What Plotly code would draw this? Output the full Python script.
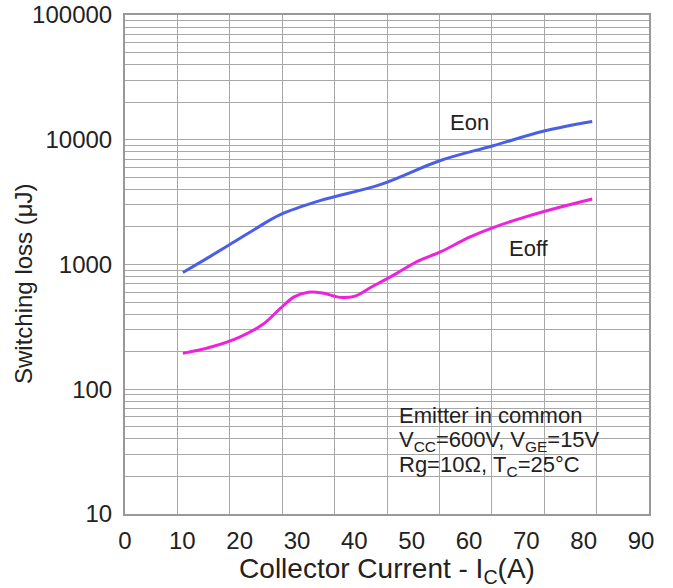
import plotly.graph_objects as go

# Data
eon_x = [10.1, 14.0, 18.0, 22.5, 27.0, 34.0, 44.5, 54.9, 64.2, 73.3, 81.5]
eon_y = [863, 1100, 1419, 1900, 2500, 3251, 4365, 6792, 8954, 11800, 14000]

eoff_x = [10.1, 15.0, 20.0, 24.0, 27.0, 29.5, 32.0, 34.5, 37.5, 40.0, 43.0, 47.0, 51.0, 55.0, 60.0, 64.2, 70.0, 75.5, 81.5]
eoff_y = [194, 218, 262, 330, 440, 550, 600, 590, 545, 555, 660, 830, 1060, 1260, 1650, 1977, 2420, 2850, 3350]

x_ticks = [0, 10, 20, 30, 40, 50, 60, 70, 80, 90]
y_ticks = [10, 100, 1000, 10000, 100000]
y_ticktext = ["10", "100", "1000", "10000", "100000"]

FONT = "Liberation Sans, Arial, sans-serif"
TXT = "#222222"
GRID = "#a8a8a8"

XMAX = 91.4
L, R, T, B = 125, 649, 15, 514
PW, PH = R - L, B - T


def px(x):
    return (x - L) / PW


def py(y):
    return (B - y) / PH


fig = go.Figure()
fig.add_trace(go.Scatter(x=eon_x, y=eon_y, mode="lines",
                         line=dict(color="#4a5ee6", width=3, shape="spline", smoothing=1.0),
                         name="Eon", showlegend=False))
fig.add_trace(go.Scatter(x=eoff_x, y=eoff_y, mode="lines",
                         line=dict(color="#ee22dd", width=3, shape="spline", smoothing=1.0),
                         name="Eoff", showlegend=False))

fig.update_layout(
    width=673, height=588,
    margin=dict(l=L, r=673 - R, t=T, b=588 - B, autoexpand=False),
    paper_bgcolor="white", plot_bgcolor="white",
    font=dict(family=FONT, size=23, color=TXT),
    xaxis=dict(
        range=[0, XMAX], tickvals=x_ticks, showgrid=False, zeroline=False,
        showline=True, mirror=True, linecolor="#999999", linewidth=2,
        ticks="", ticklabelstandoff=4, automargin=False,
        minor=dict(tick0=0, dtick=XMAX / 10, showgrid=True, gridcolor=GRID, gridwidth=1, ticks=""),
        title=dict(text="Collector Current - I<sub>C</sub>(A)", standoff=6),
        tickfont=dict(size=24),
    ),
    yaxis=dict(
        type="log", range=[1, 5], tickvals=y_ticks, ticktext=y_ticktext,
        showgrid=True, gridcolor=GRID, gridwidth=1, zeroline=False,
        showline=True, mirror=True, linecolor="#999999", linewidth=2,
        ticks="", ticklabelstandoff=6, automargin=False,
        minor=dict(dtick="D1", showgrid=True, gridcolor=GRID, gridwidth=1, ticks=""),
        tickfont=dict(size=24),
    ),
)

# y-axis title
fig.add_annotation(xref="paper", yref="paper", x=px(23), y=py(284), text="Switching loss (μJ)",
                   textangle=-90, showarrow=False, xanchor="center", yanchor="middle",
                   font=dict(size=24, color=TXT))

# white boxes (drawn between gridlines and curves)
for (x0, x1, y0, y1) in [(387, 620, 388, 487), (432, 500, 105, 138), (487, 570, 227, 263)]:
    fig.add_shape(type="rect", xref="paper", yref="paper", layer="between",
                  x0=px(x0), x1=px(x1), y0=py(y1), y1=py(y0),
                  fillcolor="white", line=dict(width=0))

lines = ["Emitter in common",
         "V<sub>CC</sub>=600V, V<sub>GE</sub>=15V",
         "Rg=10Ω, T<sub>C</sub>=25°C"]
for i, t in enumerate(lines):
    fig.add_annotation(xref="paper", yref="paper", x=px(397),
                       y=py(415 + 25.5 * i), text=t, showarrow=False,
                       xanchor="left", yanchor="middle", font=dict(size=22, color=TXT))

fig.add_annotation(xref="paper", yref="paper", x=px(469), y=py(122), xanchor="center", yanchor="middle",
                   text="Eon", showarrow=False, font=dict(size=22, color=TXT))
fig.add_annotation(xref="paper", yref="paper", x=px(529), y=py(248), xanchor="center", yanchor="middle",
                   text="Eoff", showarrow=False, font=dict(size=22, color=TXT))

fig.write_html("out.html")
